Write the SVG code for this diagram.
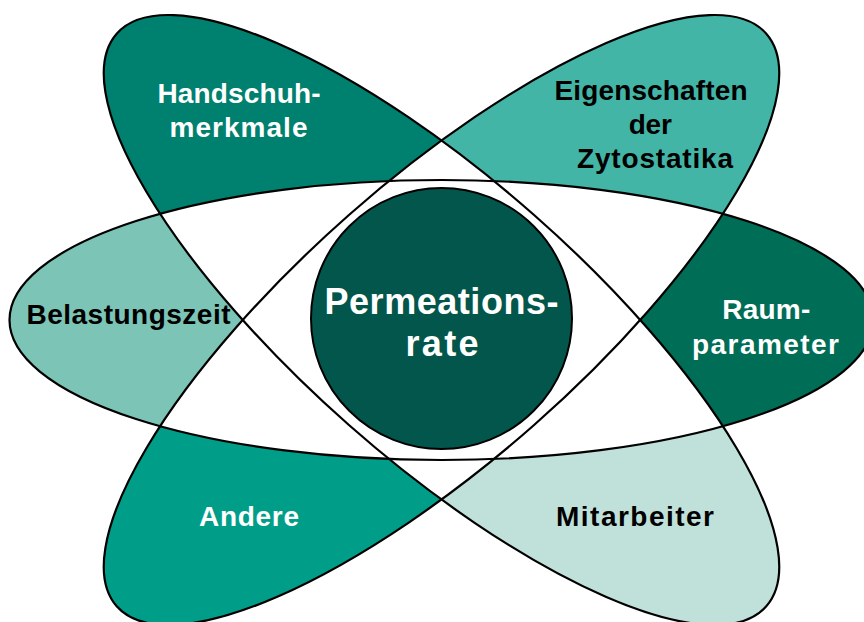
<svg xmlns="http://www.w3.org/2000/svg" width="864" height="622" viewBox="0 0 864 622">
<style>
.t{font-family:"Liberation Sans",Arial,sans-serif;font-weight:bold;font-size:28px;text-anchor:middle}
.w{fill:#ffffff}
.k{fill:#000000}
.ol{fill:none;stroke:#000000;stroke-width:2.2}
.wh{fill:#ffffff}
</style>
<defs>
<ellipse id="eH" cx="441.5" cy="320" rx="432" ry="140"/>
<ellipse id="eA" cx="441.5" cy="320" rx="433" ry="140" transform="rotate(41.4 441.5 320)"/>
<ellipse id="eB" cx="441.5" cy="320" rx="433" ry="140" transform="rotate(-41.4 441.5 320)"/>
<clipPath id="cH"><use href="#eH"/></clipPath>
<clipPath id="cB"><use href="#eB"/></clipPath>
</defs>
<rect width="864" height="622" fill="#ffffff"/>
<g id="handschuh">
<path d="M441.5 180 A433 140 0 0 0 441.5 460 Z" transform="rotate(41.4 441.5 320)" fill="#00806e"/>
<text class="t w" x="239" y="103.3" textLength="163">Handschuh-</text>
<text class="t w" x="238.5" y="136.7" textLength="138">merkmale</text>
</g>
<g id="mitarbeiter">
<path d="M441.5 180 A433 140 0 0 1 441.5 460 Z" transform="rotate(41.4 441.5 320)" fill="#c0e1da"/>
<text class="t k" x="635" y="526" textLength="158">Mitarbeiter</text>
</g>
<g id="eigenschaften">
<path d="M441.5 180 A433 140 0 0 1 441.5 460 Z" transform="rotate(-41.4 441.5 320)" fill="#43b5a6"/>
<text class="t k" x="651" y="100" textLength="193">Eigenschaften</text>
<text class="t k" x="650.3" y="134" textLength="43">der</text>
<text class="t k" x="655" y="168.3" textLength="156">Zytostatika</text>
</g>
<g id="andere">
<path d="M441.5 180 A433 140 0 0 0 441.5 460 Z" transform="rotate(-41.4 441.5 320)" fill="#009e88"/>
<text class="t w" x="249" y="526" textLength="100">Andere</text>
</g>
<g id="belastungszeit">
<path d="M441.5 180 A432 140 0 0 0 441.5 460 Z" fill="#7bc4b6"/>
<text class="t k" x="128.5" y="324.3" textLength="204">Belastungszeit</text>
</g>
<g id="raumparameter">
<path d="M441.5 180 A432 140 0 0 1 441.5 460 Z" fill="#006d56"/>
<text class="t w" x="766.3" y="319.3" textLength="88">Raum-</text>
<text class="t w" x="765.5" y="354" textLength="147">parameter</text>
</g>
<g id="connectors">
<g class="wh">
<use href="#eA" clip-path="url(#cH)"/>
<use href="#eB" clip-path="url(#cH)"/>
<use href="#eA" clip-path="url(#cB)"/>
</g>
<use href="#eH" class="ol"/>
<use href="#eA" class="ol"/>
<use href="#eB" class="ol"/>
</g>
<g id="permeationsrate">
<circle cx="441.5" cy="318.5" r="130.5" fill="#03564b" stroke="#000000" stroke-width="2"/>
<text class="t w" x="441.5" y="313.5" style="font-size:36px" textLength="234">Permeations-</text>
<text class="t w" x="442" y="356" style="font-size:36px" textLength="73">rate</text>
</g>
</svg>
